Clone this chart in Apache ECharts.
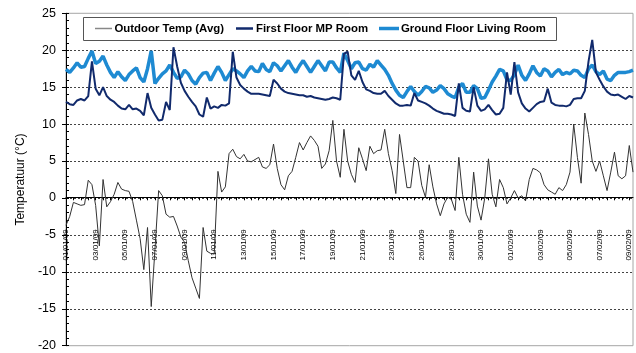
<!DOCTYPE html>
<html>
<head>
<meta charset="utf-8">
<script src="https://cdn.jsdelivr.net/npm/echarts@6/dist/echarts.min.js"></script>
<style>html,body{margin:0;padding:0;background:#fff;}#c{width:636px;height:353px;}</style>
</head>
<body>
<div id="c"></div>
<script>
const tickLabels = ['01/01/09','03/01/09','05/01/09','07/01/09','09/01/09','11/01/09','13/01/09','15/01/09','17/01/09','19/01/09','21/01/09','23/01/09','26/01/09','28/01/09','30/01/09','01/02/09','03/02/09','05/02/09','07/02/09','09/02/09'];
const pointsPerTick = 8;

const outdoorTemp = [
 -3.7,-2.5,-0.6,-0.8,-1.0,-0.9,2.4,1.8,-1.0,-6.5,
 2.5,-1.2,-0.5,0.5,2.1,1.2,1.0,0.9,-0.5,-3.0,
 -5.5,-9.7,-4.0,-14.7,-7.0,1.0,0.3,-2.2,-2.6,-2.5,
 -3.8,-5.3,-6.0,-8.5,-10.8,-12.2,-13.6,-4.0,-7.2,-7.5,
 -7.6,3.6,0.8,1.5,6.0,6.6,5.6,5.3,5.9,5.0,
 4.9,5.2,5.5,4.2,4.0,4.5,7.3,4.0,1.8,1.1,
 3.0,3.6,5.5,7.5,6.5,7.5,8.4,7.8,7.0,4.0,
 4.6,6.4,10.5,5.0,2.8,9.3,5.0,3.2,2.1,6.8,
 5.3,3.7,7.0,6.0,6.4,6.5,9.3,6.0,3.7,0.6,
 8.6,5.0,1.4,1.4,5.5,5.0,1.7,0.1,4.5,1.5,
 -0.8,-2.4,-0.8,0.1,-0.2,-1.7,5.5,0.5,-2.2,-3.3,
 3.5,-1.1,-3.0,0.0,5.3,0.5,-1.2,2.5,1.4,-0.8,
 0.0,1.0,0.0,0.3,-0.4,2.5,4.0,3.8,3.4,1.8,
 1.1,0.8,0.5,1.4,1.0,1.8,3.5,10.0,5.5,2.0,
 11.5,8.6,5.0,3.6,5.0,3.0,1.0,3.5,6.2,3.0,
 2.6,3.0,7.1,3.5
];

const firstFloorMP = [
 13.0,12.7,12.6,13.2,13.4,13.2,13.8,18.5,14.8,13.9,
 15.0,13.8,13.3,13.0,12.5,12.1,12.0,12.6,12.0,12.1,
 11.8,11.2,14.2,12.2,11.3,10.5,10.6,13.0,11.9,20.4,
 17.8,15.6,14.5,13.7,13.0,12.4,11.3,11.0,13.6,12.1,
 12.4,12.2,12.6,12.5,12.8,19.8,16.3,15.3,14.8,14.4,
 14.1,14.1,14.1,14.0,13.9,13.8,16.0,15.5,14.8,14.4,
 14.2,14.1,14.0,13.9,13.9,13.7,13.8,13.6,13.5,13.4,
 13.3,13.4,13.6,13.5,13.3,19.5,19.8,16.6,16.0,17.2,
 15.7,14.7,14.5,14.2,14.1,14.1,14.5,13.8,13.3,12.8,
 12.5,12.5,12.6,12.5,14.2,13.2,13.0,12.8,12.5,12.1,
 11.8,11.6,11.4,11.4,11.3,11.1,15.5,12.2,11.8,11.7,
 15.0,12.5,11.8,12.0,12.6,11.9,11.3,11.4,12.2,17.0,
 14.0,18.4,14.3,12.8,12.1,11.7,12.2,12.7,13.0,13.1,
 14.8,12.9,12.6,12.5,12.5,12.4,12.6,13.4,13.5,13.5,
 14.5,18.5,21.4,17.0,16.0,15.1,14.4,14.0,13.9,14.0,
 13.7,13.4,13.8,13.6
];

const groundFloorLiving = [
 17.4,17.0,17.6,18.3,17.7,17.8,18.9,19.9,18.2,18.5,
 19.2,18.0,17.0,16.3,17.1,16.4,15.9,16.7,17.2,17.6,
 16.3,15.7,17.5,19.9,15.5,16.2,16.8,17.2,18.0,17.0,
 16.2,16.4,17.3,16.8,15.9,15.4,16.3,16.9,17.0,15.9,
 16.9,17.8,17.0,15.9,16.7,17.5,17.2,16.8,16.3,17.2,
 17.8,17.2,17.1,18.2,17.4,17.1,18.3,17.9,17.2,17.9,
 18.6,17.7,17.0,17.9,18.6,17.8,17.0,17.8,18.6,17.9,
 17.2,18.4,18.4,17.6,17.0,19.6,18.6,17.5,18.3,18.4,
 17.5,17.3,18.1,17.7,18.6,18.0,17.4,16.6,15.5,14.6,
 13.9,13.6,14.4,15.1,14.4,13.9,14.4,15.1,14.9,14.3,
 14.6,15.2,14.8,14.1,13.8,13.6,15.0,15.5,14.3,14.3,
 15.2,14.8,13.5,13.6,14.6,15.7,16.5,17.4,17.2,16.0,
 15.9,16.7,18.0,16.6,15.9,16.8,17.9,17.0,16.5,17.5,
 17.2,16.4,17.0,17.4,16.7,17.0,16.8,17.3,17.2,16.6,
 16.3,17.5,18.0,17.1,16.7,17.2,16.1,15.9,16.6,17.0,
 17.0,17.0,17.1,17.3
];

const seriesNames = ['Outdoor Temp (Avg)', 'First Floor MP Room', 'Ground Floor Living Room'];
const seriesColors = ['#333333', '#112a6c', '#1e8ad2'];
const seriesWidths = [1, 2, 3.5];

const categories = outdoorTemp.map((_, i) => tickLabels[Math.floor(i / pointsPerTick)] + '#' + (i % pointsPerTick));

const FONT = '"Liberation Sans", Arial, sans-serif';

// legend drawn as graphic (line icons + real text)
const legendIconX = [95, 236, 379];
const legendIconW = [17, 17, 20];
const legendTextX = [114.5, 256, 401];
const legendGraphic = [{
  type: 'rect', left: 83, top: 17, shape: {width: 473, height: 23},
  style: {fill: '#fff', stroke: '#555', lineWidth: 1}, z: 50
}];
seriesNames.forEach((n, k) => {
  legendGraphic.push({
    type: 'line', z: 51,
    shape: {x1: legendIconX[k], y1: 28.5, x2: legendIconX[k] + legendIconW[k], y2: 28.5},
    style: {stroke: k === 0 ? '#888' : seriesColors[k], lineWidth: k === 0 ? 1.5 : (k === 1 ? 2.5 : 3.5)}
  });
  legendGraphic.push({
    type: 'text', z: 51, x: legendTextX[k], y: 28.5,
    style: {text: n, fontFamily: FONT, fontWeight: 'bold', fontSize: 11.4, fill: '#000', verticalAlign: 'middle', align: 'left'}
  });
});

const chart = echarts.init(document.getElementById('c'), null, {renderer: 'canvas'});
chart.setOption({
  animation: false,
  backgroundColor: '#fff',
  grid: {left: 66, right: 3, top: 13.3, bottom: 7.3, outerBoundsMode: 'none', containLabel: false,
         show: true, borderColor: '#a6a6a6', borderWidth: 1, backgroundColor: 'transparent'},
  graphic: legendGraphic,
  xAxis: {
    type: 'category', data: categories, boundaryGap: false, position: 'bottom',
    offset: -148.4,
    axisLine: {onZero: false, lineStyle: {color: '#000', width: 1}},
    axisTick: {show: true, interval: 1, length: 3, lineStyle: {color: '#000'}},
    axisLabel: {
      interval: pointsPerTick - 1, rotate: 90, margin: 32, fontSize: 8, color: '#000', fontFamily: FONT,
      formatter: v => v.split('#')[1] === '0' ? v.split('#')[0] : ''
    },
    splitLine: {show: false}
  },
  yAxis: [{
    type: 'value', min: -20, max: 25, interval: 5,
    name: 'Temperatuur (°C)', nameLocation: 'middle', nameGap: 37,
    nameTextStyle: {fontFamily: FONT, fontSize: 12, color: '#000'},
    axisLine: {show: true, lineStyle: {color: '#000'}},
    axisTick: {show: true, length: 4, lineStyle: {color: '#000'}},
    axisLabel: {fontFamily: FONT, fontSize: 12.5, color: '#000', margin: 10},
    splitLine: {show: true, showMinLine: false, showMaxLine: false, lineStyle: {color: '#444', type: [2, 2], width: 1}}
  }, {
    type: 'value', min: -20, max: 25, interval: 1, position: 'left',
    axisLine: {show: false}, axisLabel: {show: false}, splitLine: {show: false},
    axisTick: {show: true, inside: true, length: 3, lineStyle: {color: '#000'}}
  }],
  series: [{
    name: seriesNames[0], type: 'line', data: outdoorTemp, symbol: 'none', z: 2,
    lineStyle: {color: seriesColors[0], width: seriesWidths[0]}
  }, {
    name: seriesNames[1], type: 'line', data: firstFloorMP, symbol: 'none', z: 4,
    lineStyle: {color: seriesColors[1], width: seriesWidths[1]}
  }, {
    name: seriesNames[2], type: 'line', data: groundFloorLiving, symbol: 'none', z: 3,
    lineStyle: {color: seriesColors[2], width: seriesWidths[2]}
  }]
});
</script>
</body>
</html>
